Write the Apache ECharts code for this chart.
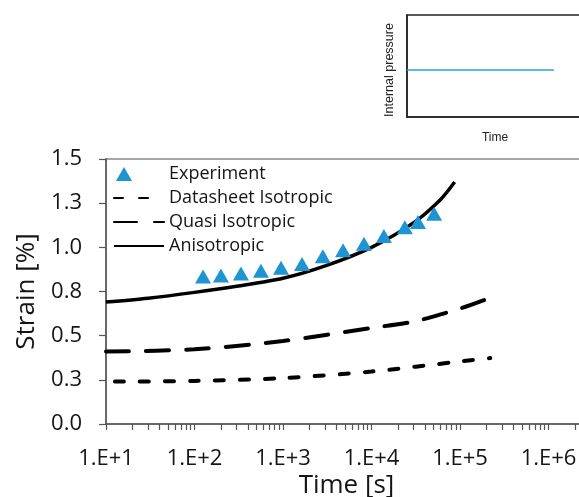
<!DOCTYPE html>
<html>
<head>
<meta charset="utf-8">
<script src="https://cdn.jsdelivr.net/npm/echarts@6/dist/echarts.min.js"></script>
<style>
  html, body { margin: 0; padding: 0; background: #fff; }
  #chart { width: 579px; height: 497px; }
</style>
</head>
<body>
<div id="chart"></div>
<script>
// experiment
var expTime = [125, 199, 335, 563, 950, 1640, 2820, 4770, 8220, 13800, 23800, 33500, 51000];
var expStrain = [0.835, 0.84, 0.852, 0.867, 0.885, 0.905, 0.949, 0.983, 1.02, 1.064, 1.114, 1.143, 1.19];

// models
var dsTime = [12.6, 100, 1000, 10000, 100000, 220000];
var dsStrain = [0.24, 0.244, 0.26, 0.297, 0.354, 0.373];

var quasiTime = [10, 100, 1000, 10000, 30000, 100000, 209000];
var quasiStrain = [0.41, 0.423, 0.47, 0.544, 0.58, 0.653, 0.71];

var anisoTime = [10, 30, 100, 300, 1000, 3000, 10000, 30000, 60000, 87000];
var anisoStrain = [0.69, 0.712, 0.745, 0.78, 0.825, 0.895, 1.0, 1.14, 1.27, 1.37];

// inset: constant internal pressure
var insetTime = [0, 0.735];
var insetPressure = [0.46, 0.46];

// tick labels
var xMajor = [1e1, 1e2, 1e3, 1e4, 1e5, 1e6, 1e7];
var xTickLabels = ['1.E+1', '1.E+2', '1.E+3', '1.E+4', '1.E+5', '1.E+6', '1.E+7'];
var yTickLabels = ['0.0', '0.3', '0.5', '0.8', '1.0', '1.3', '1.5'];

function pairs(xs, ys) {
    return xs.map(function (x, i) { return [x, ys[i]]; });
}

// log ticks 1..9 per decade
var allTicks = [];
xMajor.forEach(function (d) {
    for (var k = 1; k <= 9; k++) {
        if (d * k <= 1e7) allTicks.push(d * k);
    }
});

var font = 'Open Sans';
var ink = '#151515';
var blue = '#1f94d2';
var hidden = { opacity: 0 };

var option = {
    animation: false,
    backgroundColor: '#fff',
    textStyle: { fontFamily: font, color: ink },
    grid: [
        { left: 106, top: 159, width: 531, height: 265, show: true, borderColor: '#888', borderWidth: 1.5, outerBoundsMode: 'none' },
        { left: 407, top: 15, width: 200, height: 102, show: true, borderColor: '#222', borderWidth: 1.5, outerBoundsMode: 'none' }
    ],
    legend: {
        left: 108,
        top: 160,
        orient: 'vertical',
        itemWidth: 50,
        itemHeight: 14,
        itemGap: 6,
        textStyle: { fontFamily: font, fontSize: 18, color: ink },
        data: [
            { name: 'Experiment', icon: 'path://M0,0L0,0ZM50,14L50,14ZM2,14L10,0L18,14Z' },
            { name: 'Datasheet Isotropic', itemStyle: hidden },
            { name: 'Quasi Isotropic', itemStyle: hidden },
            { name: 'Anisotropic', itemStyle: hidden }
        ]
    },
    xAxis: [
        {
            type: 'log',
            gridIndex: 0,
            min: 10,
            max: 1e7,
            name: 'Time [s]',
            nameLocation: 'middle',
            nameGap: 49,
            nameMoveOverlap: false,
            nameTextStyle: { fontFamily: font, fontSize: 26, color: ink, padding: [0, 50, 0, 0] },
            axisLine: { lineStyle: { color: '#555', width: 1.5 } },
            axisTick: { length: 6, lineStyle: { color: '#555', width: 1.2 }, customValues: allTicks },
            axisLabel: {
                margin: 24,
                fontFamily: font,
                fontSize: 22,
                color: ink,
                customValues: xMajor,
                formatter: function (v) {
                    var i = Math.round(Math.log10(v)) - 1;
                    return xTickLabels[i];
                }
            },
            splitLine: { show: false },
            minorSplitLine: { show: false }
        },
        {
            type: 'value',
            gridIndex: 1,
            min: 0,
            max: 1,
            name: 'Time',
            nameLocation: 'middle',
            nameGap: 15,
            nameTextStyle: { fontFamily: 'Liberation Sans', fontSize: 12, color: '#222', padding: [0, 24, 0, 0] },
            axisLine: { lineStyle: { color: '#222', width: 1.5 } },
            axisTick: { show: false },
            axisLabel: { show: false },
            splitLine: { show: false }
        }
    ],
    yAxis: [
        {
            type: 'value',
            gridIndex: 0,
            min: 0,
            max: 1.5,
            interval: 0.25,
            name: 'Strain [%]',
            nameLocation: 'middle',
            nameGap: 66,
            nameMoveOverlap: false,
            nameTextStyle: { fontFamily: font, fontSize: 26, color: ink },
            axisLine: { show: true, lineStyle: { color: '#555', width: 1.5 } },
            axisTick: { show: true, length: 7, lineStyle: { color: '#555', width: 1.2 } },
            axisLabel: {
                margin: 24,
                fontFamily: font,
                fontSize: 22,
                color: ink,
                formatter: function (v) { return yTickLabels[Math.round(v / 0.25)]; }
            },
            splitLine: { show: false }
        },
        {
            type: 'value',
            gridIndex: 1,
            min: 0,
            max: 1,
            name: 'Internal pressure',
            nameLocation: 'middle',
            nameGap: 11,
            nameRotate: 90,
            nameTextStyle: { fontFamily: 'Liberation Sans', fontSize: 12.5, color: '#222', padding: [0, 8, 0, 0] },
            axisLine: { show: true, lineStyle: { color: '#222', width: 1.5 } },
            axisTick: { show: false },
            axisLabel: { show: false },
            splitLine: { show: false }
        }
    ],
    series: [
        {
            name: 'Experiment',
            type: 'scatter',
            xAxisIndex: 0,
            yAxisIndex: 0,
            symbol: 'triangle',
            symbolSize: [16, 14],
            itemStyle: { color: blue, opacity: 1 },
            data: pairs(expTime, expStrain),
            z: 5
        },
        {
            name: 'Datasheet Isotropic',
            type: 'line',
            xAxisIndex: 0,
            yAxisIndex: 0,
            smooth: 0.3,
            showSymbol: false,
            symbol: 'none',
            lineStyle: { color: '#000', width: 4, type: [9, 16], cap: 'round' },
            itemStyle: { color: '#000' },
            data: pairs(dsTime, dsStrain)
        },
        {
            name: 'Quasi Isotropic',
            type: 'line',
            xAxisIndex: 0,
            yAxisIndex: 0,
            smooth: 0.3,
            showSymbol: false,
            symbol: 'none',
            lineStyle: { color: '#000', width: 4, type: [23, 17], cap: 'round' },
            itemStyle: { color: '#000' },
            data: pairs(quasiTime, quasiStrain)
        },
        {
            name: 'Anisotropic',
            type: 'line',
            xAxisIndex: 0,
            yAxisIndex: 0,
            smooth: 0.3,
            showSymbol: false,
            symbol: 'none',
            lineStyle: { color: '#000', width: 3.5 },
            itemStyle: { color: '#000' },
            data: pairs(anisoTime, anisoStrain)
        },
        {
            name: 'Pressure',
            type: 'line',
            xAxisIndex: 1,
            yAxisIndex: 1,
            showSymbol: false,
            symbol: 'none',
            lineStyle: { color: '#29a3df', width: 1.5 },
            data: pairs(insetTime, insetPressure)
        }
    ]
};

var chart = echarts.init(document.getElementById('chart'));
chart.setOption(option);
</script>
</body>
</html>
